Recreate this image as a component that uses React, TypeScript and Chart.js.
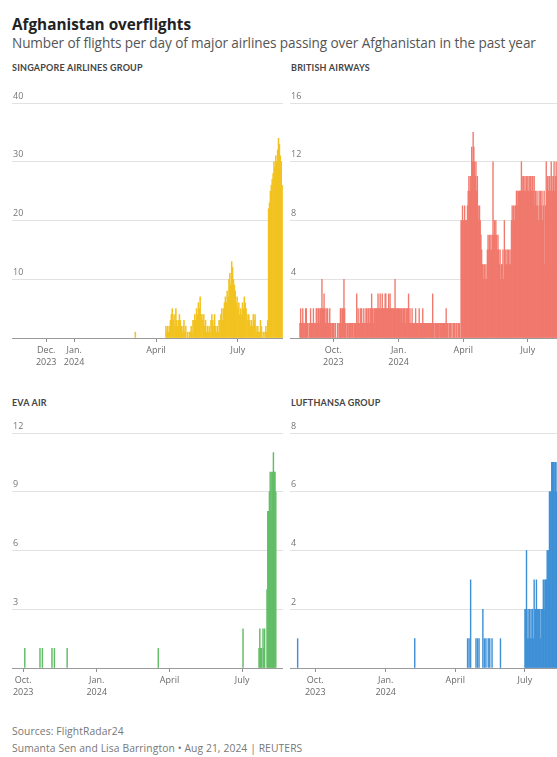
import React, { useEffect, useRef } from "react";
import { Chart, registerables } from "chart.js";

Chart.register(...registerables);
Chart.defaults.font.family = "'Open Sans', Lato, sans-serif";

// x values are day numbers counted from 1 Aug 2023 (day 0)

// ---------- tick labels ----------
const singaporeTickDays = [122, 153, 244, 335];
const singaporeTickLabels = [["Dec.", "2023"], ["Jan.", "2024"], ["April"], ["July"]];
const otherTickDays = [61, 153, 244, 335];
const otherTickLabels = [["Oct.", "2023"], ["Jan.", "2024"], ["April"], ["July"]];

// ---------- Singapore Airlines Group ----------
const singaporeEarlyDays = [221];
const singaporeEarlyValues = [1];
const singaporeMainStart = 255; // 12 Apr 2024
const singaporeMainValues = [
  2, 1, 2, 1, 2, 3, 4, 5, 3, 4,
  2, 5, 3, 2, 3, 4, 3, 2, 1, 2,
  3, 1, 2, 0, 1, 0, 1, 1, 2, 1,
  3, 3, 4, 3, 5, 4, 6, 5, 7, 4,
  4, 3, 4, 2, 3, 1, 2, 1, 2, 1,
  3, 4, 3, 2, 4, 2, 1, 2, 1, 3,
  3, 4, 5, 3, 5, 6, 7, 6, 8, 7,
  10, 11, 9, 13, 12, 10, 9, 8, 6, 7,
  5, 6, 4, 5, 4, 6, 5, 7, 6, 5,
  4, 3, 4, 3, 2, 3, 2, 4, 3, 4,
  2, 1, 2, 1, 1, 3, 2, 0, 1, 0,
  1, 2, 1, 3, 22, 23, 25, 26, 27, 28,
  30, 29, 31, 30, 32, 34, 33, 31, 30, 26,
];

// ---------- British Airways (daily, by month) ----------
const baStartDay = 14; // 15 Aug 2023
const baAug2023 = [1, 2, 1, 1, 2, 1, 1, 1, 2, 2, 1, 1, 0, 1, 1, 2, 1];
const baSep2023 = [1, 1, 2, 1, 1, 1, 2, 2, 1, 2, 2, 1, 2, 2, 4, 2, 2, 3, 2, 1, 2, 1, 2, 1, 1, 2, 1, 1, 0, 1];
const baOct2023 = [1, 1, 0, 1, 0, 0, 1, 0, 1, 1, 2, 2, 1, 2, 2, 4, 2, 1, 1, 0, 1, 1, 0, 1, 1, 0, 1, 1, 0, 1, 1];
const baNov2023 = [1, 1, 3, 1, 2, 1, 1, 2, 1, 2, 1, 1, 2, 1, 1, 2, 2, 1, 2, 2, 1, 2, 2, 3, 2, 2, 1, 2, 2, 2];
const baDec2023 = [2, 2, 3, 2, 2, 3, 2, 2, 3, 2, 2, 2, 3, 3, 2, 2, 2, 3, 2, 3, 2, 2, 2, 2, 2, 2, 4, 2, 2, 2, 2];
const baJan2024 = [2, 2, 1, 2, 2, 2, 1, 2, 2, 2, 1, 2, 2, 2, 3, 1, 2, 1, 1, 2, 1, 1, 1, 1, 2, 1, 1, 1, 1, 2, 1];
const baFeb2024 = [1, 1, 1, 2, 1, 1, 1, 1, 1, 0, 1, 1, 1, 1, 1, 1, 1, 3, 1, 1, 0, 1, 1, 1, 1, 1, 0, 1, 1];
const baMar2024 = [1, 1, 1, 1, 1, 1, 1, 2, 1, 1, 0, 1, 1, 1, 0, 1, 0, 1, 1, 1, 0, 1, 1, 0, 1, 1, 1, 0, 8, 8, 9];
const baApr2024 = [8, 8, 9, 8, 8, 8, 9, 10, 11, 10, 11, 10, 13, 12, 14, 13, 12, 11, 12, 10, 11, 9, 8, 9, 8, 7, 6, 5, 5, 4];
const baMay2024 = [5, 4, 5, 4, 6, 7, 6, 7, 6, 7, 6, 7, 12, 7, 8, 7, 8, 7, 6, 7, 6, 5, 6, 4, 5, 5, 6, 4, 8, 5, 6];
const baJun2024 = [5, 6, 5, 6, 5, 6, 5, 8, 9, 8, 9, 8, 9, 9, 10, 10, 9, 10, 10, 10, 10, 12, 11, 10, 11, 10, 11, 10, 11, 10];
const baJul2024 = [11, 10, 11, 10, 11, 10, 11, 11, 10, 11, 9, 10, 9, 10, 9, 8, 10, 9, 10, 9, 10, 8, 9, 10, 5, 9, 12, 10, 11, 10, 11];
const baAug2024 = [11, 10, 12, 11, 10, 11, 12, 10, 11, 12, 11, 10, 11, 12, 11, 10, 11, 10, 11, 10];

// ---------- EVA Air ----------
const evaDays = [63, 82, 85, 97, 100, 116, 230, 336, 356, 357, 358, 359, 361, 362, 363, 366, 367, 368, 369, 370, 371, 372, 373, 374, 375, 376, 377];
const evaValues = [1, 1, 1, 1, 1, 1, 1, 2, 1, 2, 1, 1, 2, 1, 2, 4, 8, 8, 9, 10, 8, 10, 10, 11, 10, 10, 9];

// ---------- Lufthansa Group ----------
const lufthansaEarlyDays = [38, 191, 260, 262, 264, 271, 273, 275, 280, 282, 284, 287, 289, 292, 303];
const lufthansaEarlyValues = [1, 1, 1, 1, 3, 1, 1, 1, 2, 1, 1, 1, 1, 1, 1];
const lufthansaLateStart = 335; // 1 July 2024
const lufthansaLateValues = [
  2, 2, 4, 1, 2, 1, 2, 1, 2, 1,
  2, 1, 3, 2, 2, 3, 2, 2, 2, 2,
  1, 2, 2, 2, 3, 2, 3, 3, 3, 4,
  4, 4, 6, 6, 6, 7, 7, 7, 6, 7,
  7, 6, 7, 6, 7, 6, 5, 6, 7, 6,
];

// ---------- assembled series ----------
const seq = (start: number, vals: number[]) => vals.map((_, i) => start + i);

const singaporeDays = [...singaporeEarlyDays, ...seq(singaporeMainStart, singaporeMainValues)];
const singaporeValues = [...singaporeEarlyValues, ...singaporeMainValues];

const baValues = [
  baAug2023, baSep2023, baOct2023, baNov2023, baDec2023, baJan2024,
  baFeb2024, baMar2024, baApr2024, baMay2024, baJun2024, baJul2024, baAug2024,
].flat();
const baDays = seq(baStartDay, baValues);

const lufthansaDays = [...lufthansaEarlyDays, ...seq(lufthansaLateStart, lufthansaLateValues)];
const lufthansaValues = [...lufthansaEarlyValues, ...lufthansaLateValues];

const baselinePlugin = {
  id: "baseline",
  afterDatasetsDraw(chart: any) {
    const { ctx, chartArea } = chart;
    const y = Math.round(chart.scales.y.getPixelForValue(0)) + 0.5;
    ctx.save();
    ctx.strokeStyle = "#9a9a9a";
    ctx.lineWidth = 1;
    ctx.beginPath();
    ctx.moveTo(chartArea.left, y);
    ctx.lineTo(chartArea.right, y);
    ctx.stroke();
    ctx.restore();
  },
};

type PanelProps = {
  left: number;
  top: number;
  width: number;
  height: number;
  padLeft: number;
  padRight: number;
  days: number[];
  values: number[];
  color: string;
  xMin: number;
  xMax: number;
  yMax: number;
  yStep: number;
  tickDays: number[];
  tickLabels: string[][];
};

const PAD_TOP = 15;
const PLOT_H = 235;

function Panel(p: PanelProps) {
  const ref = useRef<HTMLCanvasElement>(null);
  useEffect(() => {
    const axisH = p.height - PAD_TOP - PLOT_H;
    const chart = new Chart(ref.current as HTMLCanvasElement, {
      type: "bar",
      data: {
        datasets: [
          {
            data: p.days.map((d, i) => ({ x: d, y: p.values[i] })),
            backgroundColor: p.color,
            borderWidth: 0,
            barPercentage: 1,
            categoryPercentage: 1,
          },
        ],
      },
      options: {
        animation: false,
        responsive: false,
        events: [],
        layout: { padding: { left: p.padLeft, right: p.padRight, top: PAD_TOP, bottom: 0 } },
        plugins: { legend: { display: false }, tooltip: { enabled: false } },
        scales: {
          x: {
            type: "linear",
            min: p.xMin,
            max: p.xMax,
            bounds: "data",
            offset: false,
            grid: { display: true, drawOnChartArea: false, drawTicks: true, tickLength: 4, color: "#8f8f8f", offset: false },
            border: { display: false },
            afterBuildTicks: (s: any) => {
              s.ticks = p.tickDays.map((v) => ({ value: v }));
            },
            afterFit: (s: any) => {
              s.height = axisH;
              s.paddingLeft = 0;
              s.paddingRight = 0;
            },
            ticks: {
              autoSkip: false,
              maxRotation: 0,
              minRotation: 0,
              padding: 2,
              color: "#6a6a6a",
              font: { size: 9, lineHeight: 1.4 },
              callback: (v: any) => {
                const i = p.tickDays.indexOf(Number(v));
                return i >= 0 ? p.tickLabels[i] : "";
              },
            },
          },
          y: {
            min: 0,
            max: p.yMax,
            ticks: {
              stepSize: p.yStep,
              mirror: true,
              padding: 1,
              labelOffset: -7,
              color: "#777",
              font: { size: 9 },
              callback: (v: any) => (Number(v) === 0 ? "" : String(v)),
            },
            grid: { drawTicks: false, color: "#e2e2e2", lineWidth: 1 },
            border: { display: false },
            afterFit: (s: any) => {
              s.width = 0;
            },
          },
        },
      },
      plugins: [baselinePlugin],
    } as any);
    return () => chart.destroy();
  }, []);
  return (
    <canvas
      ref={ref}
      width={p.width}
      height={p.height}
      style={{ position: "absolute", left: p.left, top: p.top, width: p.width, height: p.height }}
    />
  );
}

const text = (top: number, left: number, size: number, weight: number, color: string, extra: any = {}) => ({
  position: "absolute" as const,
  top,
  left,
  fontSize: size,
  fontWeight: weight,
  color,
  lineHeight: 1.2,
  whiteSpace: "nowrap" as const,
  margin: 0,
  ...extra,
});

const OPEN = "'Open Sans', Lato, sans-serif";
const LATO = "Lato, 'Open Sans', sans-serif";

export default function App() {
  return (
    <div
      style={{
        position: "fixed",
        left: 0,
        top: 0,
        width: 557,
        height: 757,
        overflow: "hidden",
        background: "#fff",
        fontFamily: OPEN,
      }}
    >
      <div style={text(15.4, 12, 15.3, 700, "#222")}>Afghanistan overflights</div>
      <div style={text(35.2, 12, 13.6, 400, "#555", { letterSpacing: -0.1 })}>
        Number of flights per day of major airlines passing over Afghanistan in the past year
      </div>
      <div style={text(62.5, 12, 9, 700, "#444", { letterSpacing: 0.2, fontFamily: LATO })}>SINGAPORE AIRLINES GROUP</div>
      <div style={text(62.5, 291, 9, 700, "#444", { letterSpacing: 0.2, fontFamily: LATO })}>BRITISH AIRWAYS</div>
      <div style={text(397.5, 12, 9, 700, "#444", { letterSpacing: 0.2, fontFamily: LATO })}>EVA AIR</div>
      <div style={text(397.5, 291, 9, 700, "#444", { letterSpacing: 0.2, fontFamily: LATO })}>LUFTHANSA GROUP</div>

      <Panel
        left={0} top={88} width={290} height={286} padLeft={12} padRight={7}
        days={singaporeDays} values={singaporeValues} color="#F2C320"
        xMin={84} xMax={385} yMax={40} yStep={10}
        tickDays={singaporeTickDays} tickLabels={singaporeTickLabels}
      />
      <Panel
        left={280} top={88} width={289} height={286} padLeft={10} padRight={5}
        days={baDays} values={baValues} color="#F0786C"
        xMin={0} xMax={386} yMax={16} yStep={4}
        tickDays={otherTickDays} tickLabels={otherTickLabels}
      />
      <Panel
        left={0} top={418} width={290} height={286} padLeft={12} padRight={7}
        days={evaDays} values={evaValues} color="#62BD67"
        xMin={47} xMax={386} yMax={12} yStep={3}
        tickDays={otherTickDays} tickLabels={otherTickLabels}
      />
      <Panel
        left={280} top={418} width={289} height={286} padLeft={10} padRight={5}
        days={lufthansaDays} values={lufthansaValues} color="#3F90D6"
        xMin={28} xMax={386} yMax={8} yStep={2}
        tickDays={otherTickDays} tickLabels={otherTickLabels}
      />

      <div style={text(725, 12, 10.3, 400, "#777", { letterSpacing: 0.1 })}>Sources: FlightRadar24</div>
      <div style={text(742, 12, 10.3, 400, "#777", { letterSpacing: 0.1 })}>
        Sumanta Sen and Lisa Barrington • Aug 21, 2024 | REUTERS
      </div>
    </div>
  );
}
